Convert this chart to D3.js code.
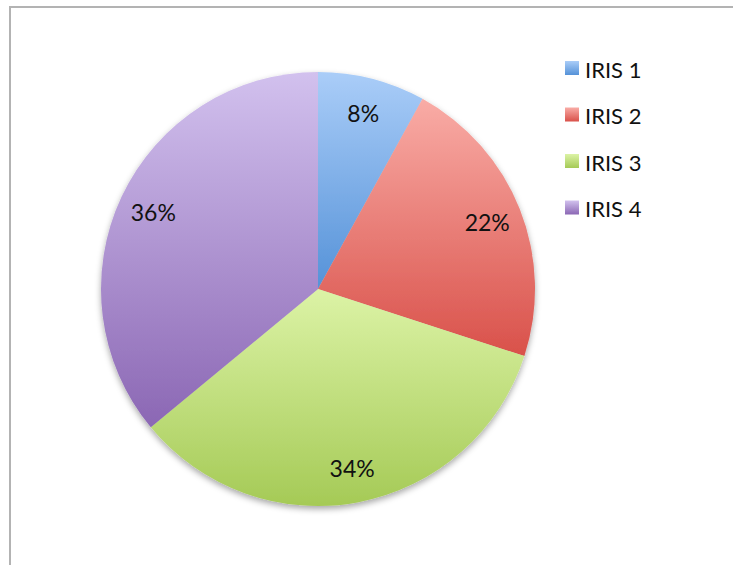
<!DOCTYPE html>
<html>
<head>
<meta charset="utf-8">
<script src="https://cdn.jsdelivr.net/npm/d3@7/dist/d3.min.js"></script>
<style>
  html, body { margin: 0; padding: 0; background: #fff; }
  svg { display: block; }
  text { font-family: Lato, "Open Sans", sans-serif; fill: #111; }
</style>
</head>
<body>
<svg id="chart" width="733" height="565"></svg>
<script>
// Series
const categories = ["IRIS 1", "IRIS 2", "IRIS 3", "IRIS 4"];
const values = [8, 22, 34, 36];
// Per-slice gradient stops (light top, dark bottom)
const topColors = ["#aacdf8", "#f9aca6", "#dcf3a6", "#d2c1ee"];
const bottomColors = ["#5592d8", "#d9514a", "#a5ca56", "#8b67b4"];

const width = 733, height = 565;
const cx = 318, cy = 289, radius = 217, labelRadius = 182;

const svg = d3.select("#chart");
const defs = svg.append("defs");

// Outer frame (top and left edges visible inside the window)
svg.append("rect")
  .attr("x", 10).attr("y", 7)
  .attr("width", width + 20).attr("height", height + 20)
  .attr("fill", "none")
  .attr("stroke", "#b3b3b3")
  .attr("stroke-width", 2);

// Soft shadow under the pie
const shadow = defs.append("filter").attr("id", "pieShadow")
  .attr("x", "-10%").attr("y", "-10%").attr("width", "120%").attr("height", "125%");
shadow.append("feDropShadow")
  .attr("dx", 0).attr("dy", 3).attr("stdDeviation", 3)
  .attr("flood-color", "#000").attr("flood-opacity", 0.35);

categories.forEach((c, i) => {
  const g = defs.append("linearGradient")
    .attr("id", "grad" + i)
    .attr("x1", 0).attr("y1", 0).attr("x2", 0).attr("y2", 1);
  g.append("stop").attr("offset", "0%").attr("stop-color", topColors[i]);
  g.append("stop").attr("offset", "100%").attr("stop-color", bottomColors[i]);
});

const color = d3.scaleOrdinal().domain(categories).range(categories.map((c, i) => `url(#grad${i})`));
const total = d3.sum(values);

const pie = d3.pie().sort(null).value(d => d.value).startAngle(0).endAngle(2 * Math.PI);
const arcs = pie(categories.map((c, i) => ({ name: c, value: values[i] })));

const arc = d3.arc().innerRadius(0).outerRadius(radius);
const labelArc = d3.arc().innerRadius(labelRadius).outerRadius(labelRadius);

const pieG = svg.append("g")
  .attr("transform", `translate(${cx},${cy})`)
  .attr("filter", "url(#pieShadow)");

pieG.selectAll("path.slice")
  .data(arcs)
  .join("path")
  .attr("class", "slice")
  .attr("d", arc)
  .attr("fill", d => color(d.data.name));

// Percentage labels
const fmt = d3.format(".0%");
svg.append("g")
  .attr("transform", `translate(${cx},${cy})`)
  .selectAll("text")
  .data(arcs)
  .join("text")
  .attr("transform", d => `translate(${labelArc.centroid(d)})`)
  .attr("text-anchor", "middle")
  .attr("dominant-baseline", "central")
  .attr("font-size", 23)
  .text(d => fmt(d.data.value / total));

// Legend
const legend = svg.append("g").attr("transform", "translate(565,61)");
const rows = legend.selectAll("g")
  .data(categories)
  .join("g")
  .attr("transform", (d, i) => `translate(0,${i * 46.5})`);
rows.append("rect")
  .attr("width", 14).attr("height", 14)
  .attr("fill", d => color(d));
rows.append("text")
  .attr("x", 20).attr("y", 8)
  .attr("dominant-baseline", "central")
  .attr("font-size", 22)
  .text(d => d);
</script>
</body>
</html>
